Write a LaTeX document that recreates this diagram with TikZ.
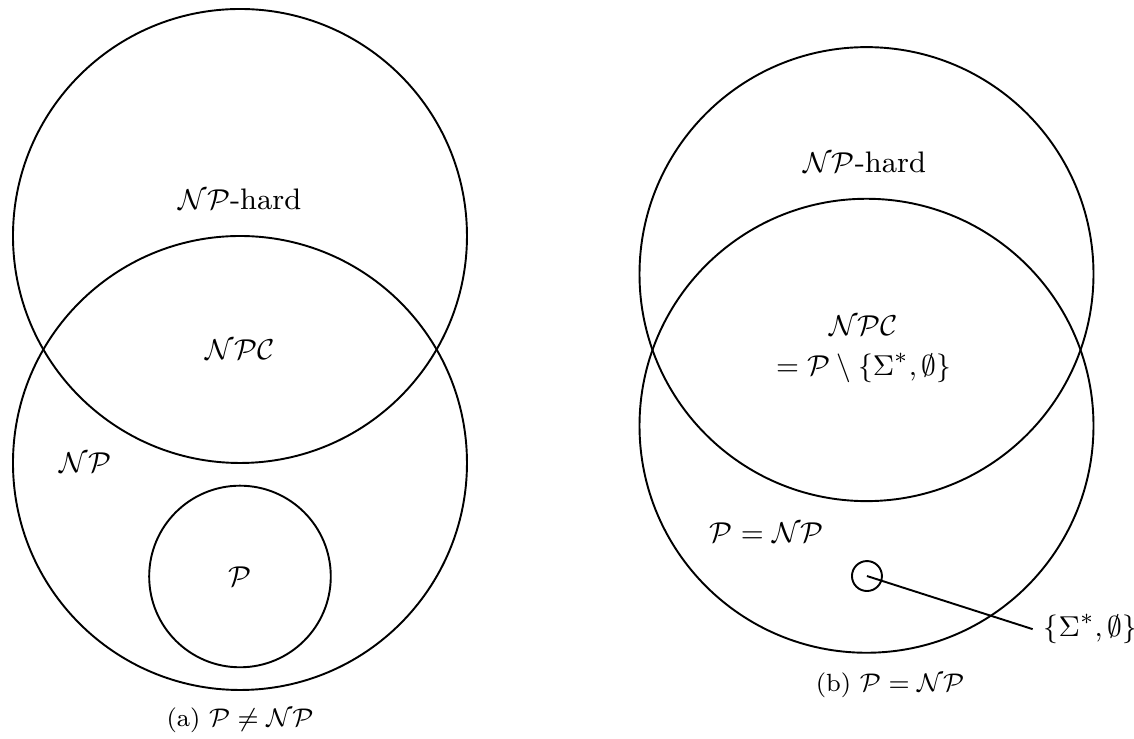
\documentclass[tikz,border=0pt]{standalone}
\usepackage{amsmath}
\usepackage{tikz}
\tikzset{
    set/.style={semithick},
    every node/.style={font=\fontsize{9.3}{12.5}\selectfont},
    subcap/.style={font=\fontsize{7.8}{9.5}\selectfont}
}
\begin{document}
\begin{tikzpicture}
    \useasboundingbox (-2.643,-5.529) rectangle (9.846,2.599);
    % (a) P != NP
    \coordinate (hardA) at (0,0);
    \coordinate (npA) at (0,-2.5);
    \coordinate (pA) at (0,-3.75);
    \draw[set] (hardA) circle (2.5);
    \draw[set] (npA) circle (2.5);
    \draw[set] (pA) circle (1);
    \node (hardlblA) at (0,0.4) {$\mathcal{NP}$-hard};
    \node (npclblA) at (0,-1.25) {$\mathcal{NPC}$};
    \node (nplblA) at (-1.7,-2.5) {$\mathcal{NP}$};
    \node (plblA) at (pA) {$\mathcal{P}$};
    \node[subcap] (capA) at (0,-5.33) {(a) $\mathcal{P} \neq \mathcal{NP}$};
    % (b) P = NP
    \coordinate (hardB) at (6.9,-0.42);
    \coordinate (npB) at (6.9,-2.09);
    \draw[set] (hardB) circle (2.5);
    \draw[set] (npB) circle (2.5);
    \node[set, draw, circle, minimum size=0.33cm, inner sep=0pt] (triv) at (6.905,-3.745) {};
    \node (hardlblB) at (6.88,0.815) {$\mathcal{NP}$-hard};
    \node[align=center] (npclblB) at (6.87,-1.25) {$\mathcal{NPC}$\\ $= \mathcal{P} \setminus \{\Sigma^*, \emptyset\}$};
    \node (pnplblB) at (5.8,-3.27) {$\mathcal{P} = \mathcal{NP}$};
    \node[anchor=west] (trivlbl) at (8.73,-4.33) {$\{\Sigma^*, \emptyset\}$};
    \draw[set] (triv.center) -- (trivlbl.west);
    \node[subcap] (capB) at (7.16,-4.945) {(b) $\mathcal{P} = \mathcal{NP}$};
\end{tikzpicture}
\end{document}
